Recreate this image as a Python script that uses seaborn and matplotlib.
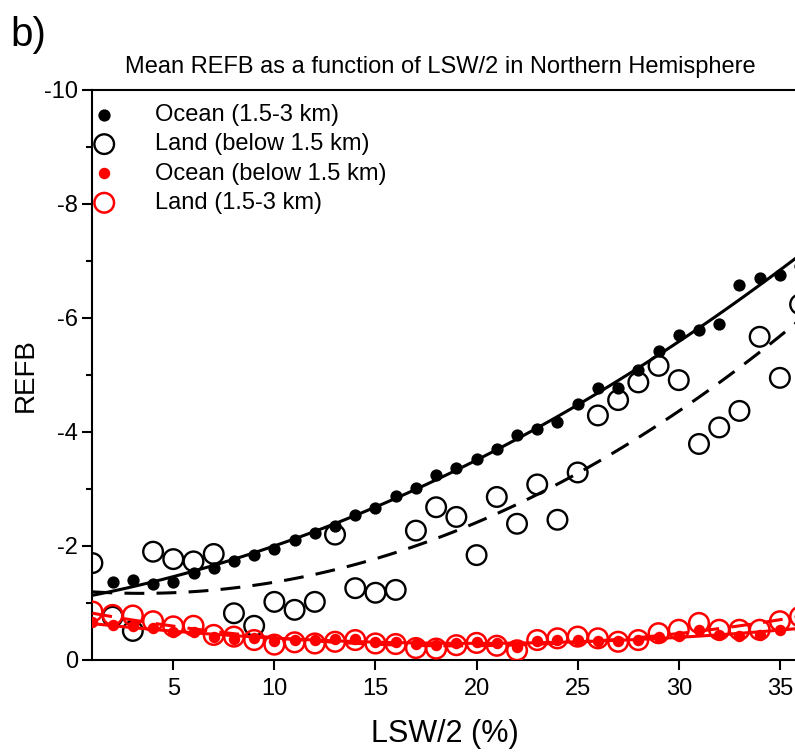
import numpy as np
import pandas as pd
import matplotlib
matplotlib.use("Agg")
import matplotlib.pyplot as plt
import seaborn as sns

# LSW/2 bins (%)
lsw = np.arange(1, 37)

# Mean REFB
ocean_hi = [np.nan, -1.37, -1.40, -1.33, -1.36, -1.52, -1.61, -1.74, -1.84, -1.94,
            -2.10, -2.22, -2.35, -2.55, -2.67, -2.87, -3.01, -3.25, -3.36, -3.52,
            -3.70, -3.94, -4.06, -4.17, -4.50, -4.78, -4.78, -5.09, -5.42, -5.71,
            -5.79, -5.89, -6.58, -6.71, -6.76, -6.92]
land_lo = [-1.70, -0.76, -0.51, -1.90, -1.77, -1.73, -1.86, -0.82, -0.60, -1.02,
           -0.88, -1.02, -2.20, -1.26, -1.18, -1.23, -2.27, -2.68, -2.51, -1.84,
           -2.86, -2.39, -3.08, -2.46, -3.29, -4.29, -4.56, -4.87, -5.16, -4.91,
           -3.79, -4.08, -4.37, -5.67, -4.95, -6.24]
ocean_lo = [-0.67, -0.62, -0.59, -0.56, -0.50, -0.50, -0.41, -0.36, -0.38, -0.33,
            -0.35, -0.35, -0.36, -0.36, -0.32, -0.32, -0.28, -0.27, -0.29, -0.32,
            -0.29, -0.23, -0.34, -0.35, -0.35, -0.34, -0.33, -0.35, -0.40, -0.42,
            -0.52, -0.44, -0.42, -0.44, -0.53, -0.53]
land_hi = [-0.85, -0.79, -0.78, -0.68, -0.59, -0.60, -0.44, -0.41, -0.35, -0.27,
           -0.31, -0.29, -0.32, -0.35, -0.29, -0.28, -0.21, -0.20, -0.26, -0.30,
           -0.25, -0.17, -0.35, -0.38, -0.41, -0.38, -0.32, -0.35, -0.47, -0.53,
           -0.65, -0.53, -0.53, -0.53, -0.68, -0.76]

df = pd.DataFrame({"lsw": lsw, "ocean_hi": ocean_hi, "land_lo": land_lo,
                   "ocean_lo": ocean_lo, "land_hi": land_hi})

sns.set_style("ticks")
plt.rcParams["font.family"] = ["Liberation Sans", "DejaVu Sans"]
plt.rcParams["axes.unicode_minus"] = False
plt.rcParams["text.color"] = "black"
plt.rcParams["axes.labelcolor"] = "black"
plt.rcParams["xtick.color"] = "black"
plt.rcParams["ytick.color"] = "black"

W, H = 795, 754
fig = plt.figure(figsize=(W / 100, H / 100), dpi=100)
px_per_unit = 20.22
x0, x1 = 1, 40
ax_w = (x1 - x0) * px_per_unit
ax = fig.add_axes([92.4 / W, (H - 660) / H, ax_w / W, (660 - 90) / H])
ax.set_xlim(x0, x1)
ax.set_ylim(0, -10)

# scatter points
sns.scatterplot(data=df, x="lsw", y="land_lo", ax=ax, marker="o", s=200,
                facecolor="none", edgecolor="black", linewidth=1.7,
                label="Land (below 1.5 km)", zorder=3)
sns.scatterplot(data=df, x="lsw", y="ocean_hi", ax=ax, marker="o", s=78,
                color="black", edgecolor="black", linewidth=0,
                label="Ocean (1.5-3 km)", zorder=4)
sns.scatterplot(data=df, x="lsw", y="land_hi", ax=ax, marker="o", s=200,
                facecolor="none", edgecolor="red", linewidth=1.8,
                label="Land (1.5-3 km)", zorder=5)
sns.scatterplot(data=df, x="lsw", y="ocean_lo", ax=ax, marker="o", s=68,
                color="red", edgecolor="red", linewidth=0,
                label="Ocean (below 1.5 km)", zorder=6)

# quadratic fits
ax.set_xlim(x0, x1)
fits = [("ocean_hi", "black", "-"), ("land_lo", "black", (0, (6.5, 4))),
        ("ocean_lo", "red", "-"), ("land_hi", "red", (0, (6.5, 4)))]
for col, c, ls in fits:
    sub = df.dropna(subset=[col])
    sns.regplot(data=sub, x="lsw", y=col, ax=ax, order=2, ci=None, scatter=False,
                truncate=False, line_kws=dict(color=c, ls=ls, lw=2.2, zorder=7))

ax.set_xlim(x0, x1)
ax.set_ylim(0, -10)

ax.set_xticks([5, 10, 15, 20, 25, 30, 35])
ax.set_yticks([0, -2, -4, -6, -8, -10])
ax.set_yticks([-1, -3, -5, -7, -9], minor=True)
ax.tick_params(axis="both", which="major", direction="out", length=7, width=1.5,
               labelsize=17, colors="black")
ax.tick_params(axis="x", which="major", pad=6)
ax.tick_params(axis="y", which="minor", direction="out", length=4.5, width=1.5,
               colors="black")

for side in ["left", "bottom", "top"]:
    ax.spines[side].set_visible(True)
    ax.spines[side].set_linewidth(1.5)
    ax.spines[side].set_color("black")
ax.spines["right"].set_visible(False)

ax.set_xlabel("LSW/2 (%)", fontsize=22)
ax.xaxis.set_label_coords((445 - 92.4) / ax_w, (660 - 719) / 570)
ax.set_ylabel("REFB", fontsize=20, labelpad=4)

# legend
handles, labels = ax.get_legend_handles_labels()
order = ["Ocean (1.5-3 km)", "Land (below 1.5 km)", "Ocean (below 1.5 km)", "Land (1.5-3 km)"]
hmap = dict(zip(labels, handles))
ax.legend([hmap[k] for k in order], order, loc="upper left",
          bbox_to_anchor=(0.0, 1 - 14 / 570), frameon=False, fontsize=17,
          handletextpad=1.65, labelspacing=0.31, borderpad=0.0,
          borderaxespad=0.0, handlelength=1.0)

fig.text(440 / W, 1 - 67 / H, "Mean REFB as a function of LSW/2 in Northern Hemisphere",
         ha="center", va="center", fontsize=17)
fig.text(10 / W, 1 - 35 / H, "b)", ha="left", va="center", fontsize=29)

fig.savefig("out.png", dpi=100)
